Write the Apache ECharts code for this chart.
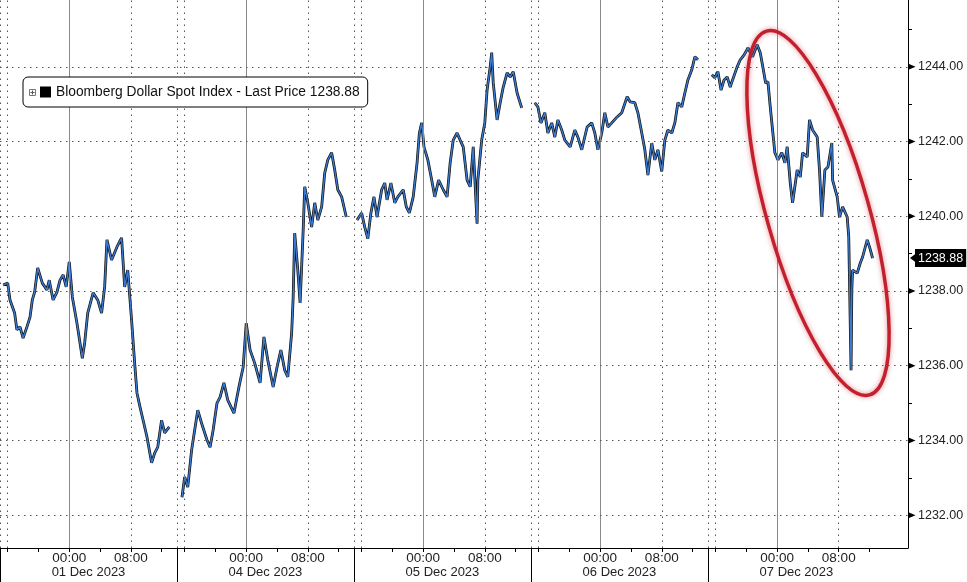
<!DOCTYPE html>
<html>
<head>
<meta charset="utf-8">
<script src="https://cdn.jsdelivr.net/npm/echarts@6/dist/echarts.min.js"></script>
<style>
html,body{margin:0;padding:0;background:#fff;}
#chart{width:967px;height:582px;}
</style>
</head>
<body>
<div id="chart"></div>
<script>
// ---- data (session hours since 15:00 of the previous day, price) ----
const dayLabels = ['01 Dec 2023', '04 Dec 2023', '05 Dec 2023', '06 Dec 2023', '07 Dec 2023'];
const sessionLength = 23;        // hours shown per trading day
const hourTicks = [1, 5, 9, 13, 17, 21];   // 16:00 20:00 00:00 04:00 08:00 12:00
const hourLabels = [[9, '00:00'], [17, '08:00']];
const priceTicks = [1232, 1234, 1236, 1238, 1240, 1242, 1244];
const priceMinorTicks = [1233, 1235, 1237, 1239, 1241, 1243, 1245];
const seriesName = 'Bloomberg Dollar Spot Index - Last Price 1238.88';
const lastPrice = 1238.88;

const dec01 = [[0.4,1238.16],[1.0,1238.21],[1.3,1237.76],[1.9,1237.41],[2.2,1236.96],[2.6,1237.04],[3.0,1236.74],[3.5,1237.04],[3.9,1237.30],[4.2,1237.76],[4.5,1237.97],[4.9,1238.62],[5.5,1238.21],[6.1,1238.03],[6.4,1238.29],[6.9,1237.76],[7.4,1237.97],[7.8,1238.29],[8.2,1238.43],[8.6,1238.11],[9.0,1238.78],[9.4,1237.84],[10.0,1237.14],[10.7,1236.20],[11.0,1236.61],[11.4,1237.41],[12.1,1237.95],[12.7,1237.76],[13.2,1237.41],[13.6,1238.11],[13.9,1239.37],[14.5,1238.83],[15.2,1239.18],[15.8,1239.42],[16.2,1238.11],[16.6,1238.56],[17.1,1237.22],[17.5,1236.07],[17.8,1235.27],[18.2,1234.89],[18.6,1234.54],[19.1,1234.09],[19.7,1233.40],[20.1,1233.66],[20.5,1233.82],[21.0,1234.54],[21.4,1234.20],[22.0,1234.36]];
const dec04 = [[0.65,1232.48],[1.0,1233.02],[1.4,1232.75],[1.9,1233.74],[2.3,1234.28],[2.7,1234.81],[3.2,1234.46],[3.9,1234.01],[4.3,1233.82],[4.7,1234.28],[5.2,1235.00],[5.6,1235.16],[6.1,1235.54],[6.6,1235.08],[7.4,1234.73],[7.8,1235.16],[8.1,1235.48],[8.6,1235.96],[9.0,1237.14],[9.5,1236.42],[10.1,1236.07],[10.8,1235.54],[11.3,1236.77],[11.8,1236.15],[12.5,1235.43],[13.0,1235.96],[13.5,1236.42],[14.0,1235.88],[14.4,1235.70],[14.9,1236.87],[15.1,1237.84],[15.3,1239.55],[15.7,1238.56],[16.0,1237.68],[16.4,1239.63],[16.6,1240.79],[17.0,1240.36],[17.5,1239.71],[17.9,1240.36],[18.3,1239.90],[18.8,1240.25],[19.2,1241.16],[19.6,1241.51],[20.1,1241.70],[20.5,1241.24],[20.9,1240.71],[21.4,1240.52],[22.0,1239.98]];
const dec05 = [[0.4,1239.90],[1.0,1240.09],[1.4,1239.71],[1.8,1239.40],[2.2,1240.09],[2.6,1240.52],[3.0,1239.98],[3.6,1240.71],[4.0,1240.89],[4.3,1240.44],[4.8,1240.89],[5.3,1240.36],[5.7,1240.52],[6.4,1240.71],[6.8,1240.25],[7.2,1240.09],[7.7,1240.52],[8.2,1241.43],[8.5,1242.23],[8.8,1242.50],[9.1,1241.86],[9.6,1241.51],[10.1,1240.97],[10.5,1240.52],[11.0,1240.97],[11.6,1240.71],[12.1,1240.52],[12.5,1241.43],[12.9,1242.04],[13.4,1242.23],[13.8,1242.04],[14.2,1241.86],[14.7,1240.97],[15.1,1240.79],[15.5,1241.86],[16.0,1239.80],[16.1,1240.97],[16.6,1242.04],[17.0,1242.50],[17.3,1243.38],[17.7,1244.00],[17.9,1244.38],[18.1,1243.57],[18.6,1242.58],[19.0,1243.04],[19.4,1243.46],[19.9,1243.84],[20.3,1243.73],[20.7,1243.87],[21.2,1243.30],[21.8,1242.90]];
const dec06 = [[0.5,1243.04],[0.9,1242.93],[1.3,1242.50],[1.8,1242.77],[2.2,1242.23],[2.7,1242.50],[3.1,1242.12],[3.5,1242.58],[4.0,1242.31],[4.4,1242.04],[5.1,1241.86],[5.7,1242.31],[6.1,1242.12],[6.6,1241.78],[7.3,1242.39],[7.9,1242.50],[8.3,1242.23],[8.7,1241.78],[9.2,1242.23],[9.6,1242.77],[10.0,1242.39],[10.5,1242.50],[11.2,1242.66],[11.8,1242.77],[12.5,1243.20],[12.9,1243.06],[13.5,1243.04],[13.9,1242.77],[14.4,1242.23],[14.8,1241.78],[15.2,1241.10],[15.7,1241.96],[16.1,1241.51],[16.5,1241.78],[17.0,1241.20],[17.4,1242.04],[17.8,1242.31],[18.3,1242.23],[18.7,1242.50],[19.1,1243.04],[19.6,1242.93],[20.0,1243.30],[20.4,1243.65],[20.9,1243.92],[21.3,1244.27],[21.7,1244.19]];
const dec07 = [[0.5,1243.79],[0.9,1243.71],[1.3,1243.87],[1.7,1243.38],[2.1,1243.65],[2.5,1243.73],[2.9,1243.46],[3.2,1243.65],[3.8,1244.00],[4.2,1244.19],[4.7,1244.32],[5.2,1244.51],[5.8,1244.27],[6.4,1244.59],[6.8,1244.38],[7.2,1243.92],[7.5,1243.57],[7.8,1243.60],[8.1,1242.93],[8.4,1242.31],[8.7,1241.70],[9.1,1241.51],[9.6,1241.70],[10.0,1241.43],[10.3,1241.86],[10.7,1240.89],[11.0,1240.36],[11.6,1241.24],[12.0,1241.05],[12.3,1241.70],[12.9,1241.59],[13.2,1242.58],[13.6,1242.31],[14.2,1242.12],[14.5,1241.24],[14.8,1239.98],[15.2,1241.24],[15.6,1241.32],[16.1,1241.96],[16.2,1240.97],[16.8,1240.52],[17.1,1239.98],[17.5,1240.25],[18.1,1239.98],[18.3,1239.45],[18.6,1235.88],[18.7,1238.03],[18.8,1238.56],[19.4,1238.48],[19.8,1238.75],[20.1,1238.91],[20.7,1239.37],[21.0,1239.18],[21.4,1238.88]];

const days = [dec01, dec04, dec05, dec06, dec07];

// ---- build ----
const FONT = '"Liberation Sans", Arial, sans-serif';
const xMax = 118;
const yMin = 1231.12, yMax = 1245.79;

const lineData = [];
days.forEach((d, k) => {
  d.forEach(([h, p]) => lineData.push([k * sessionLength + h, p]));
  lineData.push([k * sessionLength + sessionLength - 0.5, '-']);
});

const tickVals = [], labelVals = [], sepVals = [], dayCenters = [];
days.forEach((d, k) => {
  const b = k * sessionLength;
  hourTicks.forEach(h => tickVals.push(b + h));
  hourLabels.forEach(([h]) => labelVals.push(b + h));
  sepVals.push(b);
  dayCenters.push(b + sessionLength / 2);
});

function hourText(v) {
  const h = Math.round(((v % sessionLength) + sessionLength) % sessionLength);
  const f = hourLabels.find(x => x[0] === h);
  return f ? f[1] : '';
}

const dotted = {color: '#555', width: 1, type: [1.5, 4.5]};
const solidGrey = {color: '#8a8a8a', width: 1, type: 'solid'};
const gridLines = [];
days.forEach((d, k) => {
  const b = k * sessionLength;
  gridLines.push({xAxis: b, lineStyle: dotted});
  gridLines.push({xAxis: b + 1, lineStyle: dotted});
  gridLines.push({xAxis: b + 9, lineStyle: solidGrey});
  gridLines.push({xAxis: b + 17, lineStyle: dotted});
});
priceTicks.forEach(v => gridLines.push({yAxis: v, lineStyle: dotted}));

const chart = echarts.init(document.getElementById('chart'), null, {renderer: 'canvas'});
chart.setOption({
  animation: false,
  backgroundColor: '#fff',
  textStyle: {fontFamily: FONT},
  grid: {left: 0, right: 59, top: 0, bottom: 34, containLabel: false},
  legend: {
    show: true, z: 100,
    left: 23, top: 77,
    padding: [8, 8, 8, 17],
    borderColor: '#000', borderWidth: 1, borderRadius: 5,
    backgroundColor: '#fff',
    itemWidth: 11, itemHeight: 11, itemGap: 0,
    data: [{name: seriesName, icon: 'rect', itemStyle: {color: '#000'}}],
    textStyle: {fontFamily: FONT, fontSize: 13.8, color: '#111', padding: [1, 0, 0, 0]},
    selectedMode: false
  },
  xAxis: [{
    type: 'value', min: 0, max: xMax, position: 'bottom',
    axisLine: {show: true, onZero: false, lineStyle: {color: '#000', width: 1}},
    axisTick: {show: true, customValues: tickVals, length: 4, inside: false, lineStyle: {color: '#000'}},
    axisLabel: {show: true, customValues: labelVals, formatter: hourText, margin: 3,
      fontFamily: FONT, fontSize: 13.5, color: '#222'},
    splitLine: {show: false}
  }, {
    type: 'value', min: 0, max: xMax, position: 'bottom',
    axisLine: {show: false, onZero: false},
    axisTick: {show: true, customValues: sepVals, length: 34, inside: false, lineStyle: {color: '#000'}},
    axisLabel: {show: true, customValues: dayCenters,
      formatter: v => dayLabels[Math.round((v - sessionLength / 2) / sessionLength)] || '',
      margin: 18, fontFamily: FONT, fontSize: 13, color: '#222'},
    splitLine: {show: false}
  }],
  yAxis: [{
    type: 'value', position: 'right', min: yMin, max: yMax, scale: true,
    axisLine: {show: true, onZero: false, lineStyle: {color: '#000', width: 1}},
    axisTick: {show: true, customValues: priceMinorTicks, length: 4, inside: false, lineStyle: {color: '#000'}},
    axisLabel: {show: true, customValues: priceTicks, formatter: v => v.toFixed(2), margin: 10,
      fontFamily: FONT, fontSize: 12.5, color: '#222'},
    splitLine: {show: false}
  }],
  graphic: [
    {type: 'rect', left: 29, top: 89, shape: {width: 6, height: 6},
      style: {fill: '#fff', stroke: '#777', lineWidth: 1}, z: 200},
    {type: 'line', shape: {x1: 30.5, y1: 92.5, x2: 34.5, y2: 92.5}, style: {stroke: '#555', lineWidth: 1}, z: 201},
    {type: 'line', shape: {x1: 32.5, y1: 90.5, x2: 32.5, y2: 94.5}, style: {stroke: '#555', lineWidth: 1}, z: 201},
    {type: 'ellipse', x: 818, y: 213, rotation: 0.276,
      shape: {cx: 0, cy: 0, rx: 51, ry: 189},
      style: {fill: 'none', stroke: '#c3202e', lineWidth: 3.5,
        shadowBlur: 5, shadowColor: 'rgba(200,40,50,0.55)'}, z: 150}
  ],
  series: [{
    name: 'grid',
    type: 'line', data: lineData, xAxisIndex: 0, yAxisIndex: 0,
    showSymbol: false, silent: true, z: 1,
    lineStyle: {opacity: 0, width: 0},
    markLine: {
      silent: true, symbol: ['none', 'none'], animation: false,
      label: {show: false},
      data: gridLines
    },
    markPoint: {
      silent: true, symbol: 'triangle', symbolSize: [6, 7], symbolRotate: -90,
      symbolOffset: [4, 0], itemStyle: {color: '#000'}, label: {show: false},
      data: priceTicks.map(v => ({coord: [xMax, v]}))
    }
  }, {
    name: seriesName,
    type: 'line', data: lineData, showSymbol: false, z: 3,
    lineStyle: {color: '#111', width: 2.8},
    itemStyle: {color: '#000'}
  }, {
    name: 'blue',
    type: 'line', data: lineData, showSymbol: false, z: 4,
    lineStyle: {color: '#3a7bd0', width: 1.4},
    itemStyle: {color: '#3a7bd0'},
    markLine: {
      silent: true, symbol: ['none', 'none'], animation: false,
      lineStyle: {color: 'rgba(255,255,255,0)', width: 1, type: 'solid'},
      label: {show: true, position: 'end', distance: 7, formatter: () => lastPrice.toFixed(2),
        color: '#fff', backgroundColor: '#000', padding: [3, 3, 2, 3],
        fontFamily: FONT, fontSize: 12.5, opacity: 1},
      emphasis: {disabled: true},
      data: [{yAxis: lastPrice}]
    },
    markPoint: {
      silent: true, symbol: 'triangle', symbolSize: [9, 6], symbolRotate: 90,
      symbolOffset: [5, 0], itemStyle: {color: '#000'}, label: {show: false},
      data: [{coord: [xMax, lastPrice]}]
    }
  }]
});
</script>
</body>
</html>
